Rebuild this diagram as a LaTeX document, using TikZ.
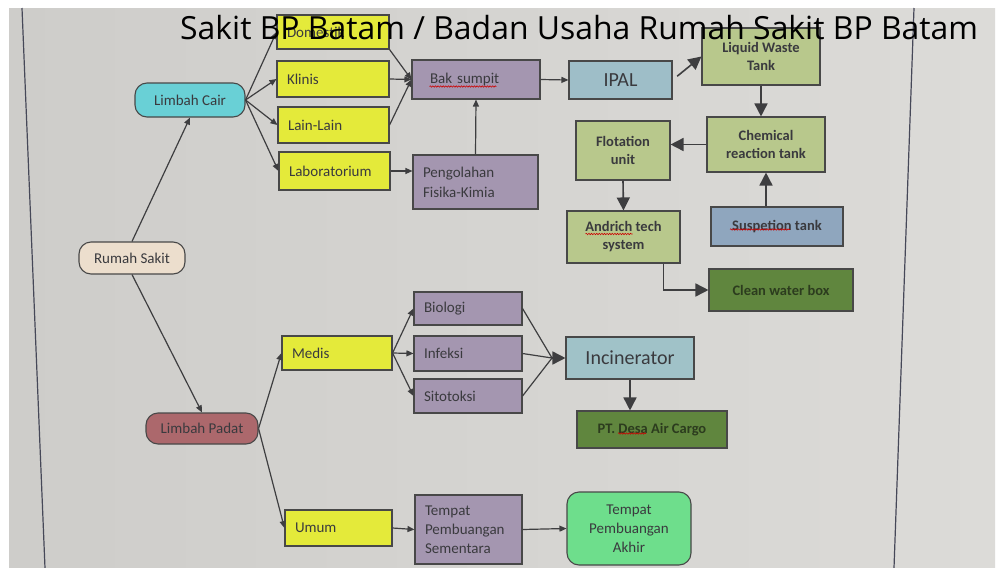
\documentclass[tikz,border=0pt]{standalone}
\usepackage{fontspec}
\setmainfont{Carlito}
\newfontfamily\titlefont{Open Sans}
\usepackage{xcolor}
\usetikzlibrary{arrows.meta,positioning,calc,decorations.pathmorphing}

\definecolor{screenL}{RGB}{206,205,202}
\definecolor{screenR}{RGB}{220,219,216}
\definecolor{pageline}{RGB}{70,72,88}
\definecolor{linegray}{RGB}{62,62,64}
\definecolor{boxline}{RGB}{72,72,72}
\definecolor{textgray}{RGB}{58,58,62}
\definecolor{wasteyellow}{RGB}{228,234,58}
\definecolor{cairblue}{RGB}{105,208,214}
\definecolor{sumpitmauve}{RGB}{164,150,176}
\definecolor{ipalblue}{RGB}{158,190,200}
\definecolor{tankolive}{RGB}{184,200,140}
\definecolor{suspblue}{RGB}{143,166,190}
\definecolor{outgreen}{RGB}{96,134,62}
\definecolor{outtext}{RGB}{44,60,30}
\definecolor{incinblue}{RGB}{160,194,200}
\definecolor{finalgreen}{RGB}{110,222,140}
\definecolor{rootbeige}{RGB}{236,222,205}
\definecolor{padatred}{RGB}{172,104,108}

\begin{document}
\begin{tikzpicture}[
  x=1pt,y=-1pt,
  flow/.style={-{Triangle[length=7pt,width=6pt]},draw=linegray,line width=1.2pt},
  big flow/.style={-{Triangle[length=13pt,width=13pt]},draw=linegray,line width=1.6pt},
  flow box/.style={draw=boxline,line width=1.1pt,text=textgray,inner ysep=0pt,
    font=\fontsize{15}{19}\selectfont},
  box size/.style 2 args={minimum width=#1,minimum height=#2,inner xsep=0pt,align=center},
  left text/.style 2 args={text width=#1,minimum height=#2,inner xsep=10pt,align=left},
  waste step/.style={flow box,fill=wasteyellow},
  process step/.style={flow box,fill=sumpitmauve},
  tank step/.style={flow box,fill=tankolive,font=\fontsize{14.5}{18}\selectfont\bfseries},
  out step/.style={flow box,fill=outgreen,text=outtext,font=\fontsize{14.5}{18}\selectfont\bfseries},
  pill/.style={flow box,rounded corners=12pt},
  spell/.style={draw=red!80!black,line width=0.6pt,decorate,
    decoration={snake,amplitude=0.7pt,segment length=2.6pt}}
]
\useasboundingbox (0,0) rectangle (997,568);
\fill[white] (0,0) rectangle (997,568);
\shade[left color=screenL,right color=screenR] (9,8) rectangle (995,568);
\draw[pageline,line width=1.2pt] (22,8) -- (45,568);
\draw[pageline,line width=1.2pt] (914,8) -- (894,568);

% sources
\node[pill,fill=rootbeige,box size={106}{32}] (rumah-sakit) at (132,258) {Rumah Sakit};
\node[pill,fill=cairblue,box size={110}{34}] (limbah-cair) at (190,100) {Limbah Cair};
\node[pill,fill=padatred,box size={112}{31}] (limbah-padat) at (202,428.5) {Limbah Padat};

% liquid waste
\node[waste step,left text={92}{34}] (domestik) at (333,32) {Domestik};
\node[waste step,left text={92}{36}] (klinis) at (333,79) {Klinis};
\node[waste step,left text={91}{36}] (lain-lain) at (333.5,125) {Lain-Lain};
\node[waste step,left text={91}{38}] (laboratorium) at (334.5,171) {Laboratorium};
\node[process step,text width=92,minimum height=39,inner xsep=18pt,align=left] (bak-sumpit) at (476,79.5) {Bak sumpit};
\node[process step,left text={105}{54}] (pengolahan) at (475.5,182) {Pengolahan\\[1pt]Fisika-Kimia};
\node[flow box,fill=ipalblue,box size={103}{38},font=\fontsize{20}{24}\selectfont] (ipal) at (620.5,80) {IPAL};
\node[tank step,box size={118}{57}] (liquid-waste) at (761,56.5) {Liquid Waste\\Tank};
\node[tank step,box size={118}{55}] (chemical) at (766,144.5) {Chemical\\reaction tank};
\node[tank step,box size={94}{59}] (flotation) at (623,150.5) {Flotation\\unit};
\node[tank step,box size={113}{52}] (andrich) at (623.5,237) {Andrich tech\\system};
\node[tank step,fill=suspblue,box size={132}{39}] (suspetion) at (777,226.5) {Suspetion tank};
\node[out step,box size={144}{42}] (clean-water) at (781,290) {Clean water box};

% solid waste
\node[waste step,left text={90}{34}] (medis) at (337,353) {Medis};
\node[waste step,left text={87}{36}] (umum) at (338.5,528) {Umum};
\node[process step,left text={88}{33}] (biologi) at (468,308.5) {Biologi};
\node[process step,left text={88}{35}] (infeksi) at (468,353.5) {Infeksi};
\node[process step,left text={88}{34}] (sitotoksi) at (468,396) {Sitotoksi};
\node[flow box,fill=incinblue,box size={128}{42},font=\fontsize{20}{24}\selectfont] (incinerator) at (630,358) {Incinerator};
\node[out step,box size={150}{37}] (pt-desa) at (652,429.5) {PT. Desa Air Cargo};
\node[process step,left text={87}{69}] (sementara) at (468.5,529.5) {Tempat\\Pembuangan\\Sementara};
\node[pill,fill=finalgreen,box size={124}{73}] (akhir) at (629,528.5) {Tempat\\Pembuangan\\Akhir};
\coordinate (medis-merge) at (552,358);

% spell-check marks
\draw[spell] ($(bak-sumpit.west)+(18,7)$) -- ++(67,0);
\draw[spell] ($(andrich.center)+(-38,-3)$) -- ++(47,0);
\draw[spell] ($(suspetion.center)+(-47,3)$) -- ++(60,0);
\draw[spell] ($(pt-desa.center)+(-34,4)$) -- ++(28,0);

% connectors
\draw[flow] (rumah-sakit.north) -- (limbah-cair.south);
\draw[flow] (rumah-sakit.south) -- (limbah-padat.north);
\foreach \src in {domestik,klinis,lain-lain,laboratorium}
  \draw[flow] (limbah-cair.east) -- (\src.west);
\draw[flow] (domestik.south east) -- (bak-sumpit.west);
\draw[flow] (klinis.east) -- (bak-sumpit.west);
\draw[flow] (lain-lain.east) -- (bak-sumpit.west);
\draw[flow] (laboratorium.east) -- (laboratorium.east -| pengolahan.west);
\draw[flow] (pengolahan.north) -- (bak-sumpit.south);
\draw[flow] (bak-sumpit.east) -- (ipal.west);
\draw[big flow,shorten <=6pt] (ipal.east) -- (liquid-waste.west);
\draw[big flow] (liquid-waste.south) -- (liquid-waste.south |- chemical.north);
\draw[big flow] (chemical.west) -- (chemical.west -| flotation.east);
\draw[big flow] (flotation.south) -- (andrich.north);
\draw[big flow] (chemical.south |- suspetion.north) -- (chemical.south);
\draw[big flow] ([xshift=-17pt]andrich.south east) |- (clean-water.west);

\draw[flow] (limbah-padat.east) -- (medis.west);
\draw[flow] (limbah-padat.east) -- (umum.west);
\foreach \dst in {biologi,infeksi,sitotoksi}
  \draw[flow] (medis.east) -- (\dst.west);
\foreach \src in {biologi,infeksi,sitotoksi}
  \draw[linegray,line width=1.2pt] (\src.east) -- (medis-merge);
\draw[big flow] (medis-merge) -- (incinerator.west);
\draw[big flow] (incinerator.south) -- (incinerator.south |- pt-desa.north);
\draw[flow] (umum.east) -- (sementara.west);
\draw[flow] (sementara.east) -- (akhir.west);

% overlay title
\node[anchor=base west,inner sep=0pt,text=black,
  font=\titlefont\fontsize{31.9}{32}\selectfont] (title) at (180,39)
  {Sakit BP Batam / Badan Usaha Rumah Sakit BP Batam};
\end{tikzpicture}
\end{document}
